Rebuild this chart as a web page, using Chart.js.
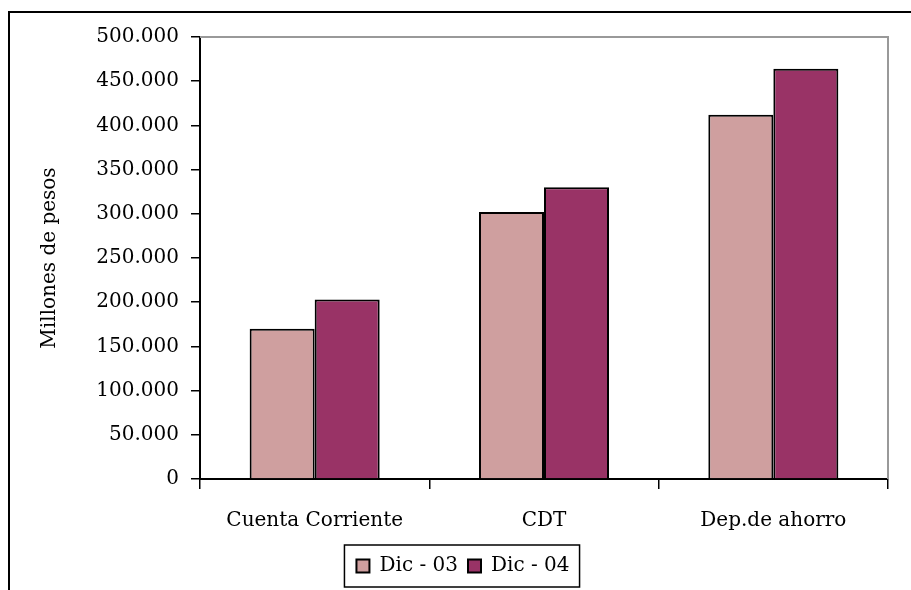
<!DOCTYPE html>
<html>
<head>
<meta charset="utf-8">
<script src="https://cdn.jsdelivr.net/npm/chart.js@4.4.1/dist/chart.umd.min.js"></script>
<style>
  html, body { margin: 0; padding: 0; background: #fff; }
  #wrap { width: 911px; height: 590px; }
</style>
</head>
<body>
<div id="wrap"><canvas id="myChart" width="911" height="590"></canvas></div>
<script>
// data
var categories = ['Cuenta Corriente', 'CDT', 'Dep.de ahorro'];
var dic03 = [170000, 302000, 412000];
var dic04 = [203000, 330000, 464000];
var seriesNames = ['Dic - 03', 'Dic - 04'];

var FONT = '"DejaVu Serif", serif';

// frame around the whole chart, gray top/right of plot area, box around legend
var framePlugin = {
    id: 'frame',
    afterDraw: function(chart) {
        var c = chart.ctx;
        var a = chart.chartArea;
        c.save();
        // outer frame (left and top are visible)
        c.strokeStyle = '#000';
        c.lineWidth = 2;
        c.beginPath();
        c.moveTo(9, 590);
        c.lineTo(9, 12);
        c.lineTo(911, 12);
        c.stroke();
        // plot area top and right edges
        c.strokeStyle = '#999';
        c.lineWidth = 2;
        c.beginPath();
        c.moveTo(a.left, a.top);
        c.lineTo(a.right, a.top);
        c.lineTo(a.right, a.bottom);
        c.stroke();
        // legend border
        var lg = chart.legend;
        if (lg && lg.legendHitBoxes && lg.legendHitBoxes.length) {
            var first = lg.legendHitBoxes[0];
            var last = lg.legendHitBoxes[lg.legendHitBoxes.length - 1];
            var x0 = first.left - 12;
            var x1 = last.left + last.width + 10;
            var mid = first.top + first.height / 2;
            c.strokeStyle = '#000';
            c.lineWidth = 1.5;
            c.strokeRect(x0, mid - 21, x1 - x0, 42);
        }
        c.restore();
    }
};

var ctx = document.getElementById('myChart').getContext('2d');
var myChart = new Chart(ctx, {
    type: 'bar',
    data: {
        labels: categories,
        datasets: [{
            label: seriesNames[0],
            data: dic03,
            backgroundColor: '#CF9F9F',
            borderColor: '#000',
            borderWidth: 2
        }, {
            label: seriesNames[1],
            data: dic04,
            backgroundColor: '#993366',
            borderColor: '#000',
            borderWidth: 2
        }]
    },
    plugins: [framePlugin],
    options: {
        responsive: false,
        animation: false,
        devicePixelRatio: 1,
        layout: { padding: { left: 38, right: 23, top: 37, bottom: 4 } },
        datasets: {
            bar: { categoryPercentage: 0.567, barPercentage: 1.0 }
        },
        plugins: {
            tooltip: { enabled: false },
            legend: {
                position: 'bottom',
                labels: {
                    color: '#000',
                    font: { family: FONT, size: 20 },
                    boxWidth: 13,
                    boxHeight: 13,
                    padding: 10,
                    useBorderRadius: false
                }
            }
        },
        scales: {
            x: {
                grid: {
                    display: true,
                    drawOnChartArea: false,
                    offset: true,
                    color: '#000',
                    lineWidth: 1.5,
                    tickLength: 10
                },
                border: { color: '#000', width: 2 },
                ticks: {
                    color: '#000',
                    font: { family: FONT, size: 20 },
                    padding: 20,
                    maxRotation: 0
                },
                afterFit: function(scale) { scale.height = 67; }
            },
            y: {
                min: 0,
                max: 500000,
                grid: {
                    display: true,
                    drawOnChartArea: false,
                    color: '#000',
                    lineWidth: 1.5,
                    tickLength: 9
                },
                border: { color: '#000', width: 2 },
                ticks: {
                    stepSize: 50000,
                    color: '#000',
                    padding: 12,
                    font: { family: FONT, size: 20 },
                    callback: function(v) {
                        return v.toString().replace(/\B(?=(\d{3})+(?!\d))/g, '.');
                    }
                },
                title: {
                    display: true,
                    text: 'Millones de pesos',
                    color: '#000',
                    font: { family: FONT, size: 20 },
                    padding: { top: 0, bottom: 0 }
                },
                afterFit: function(scale) { scale.width = 162; }
            }
        }
    }
});
</script>
</body>
</html>
